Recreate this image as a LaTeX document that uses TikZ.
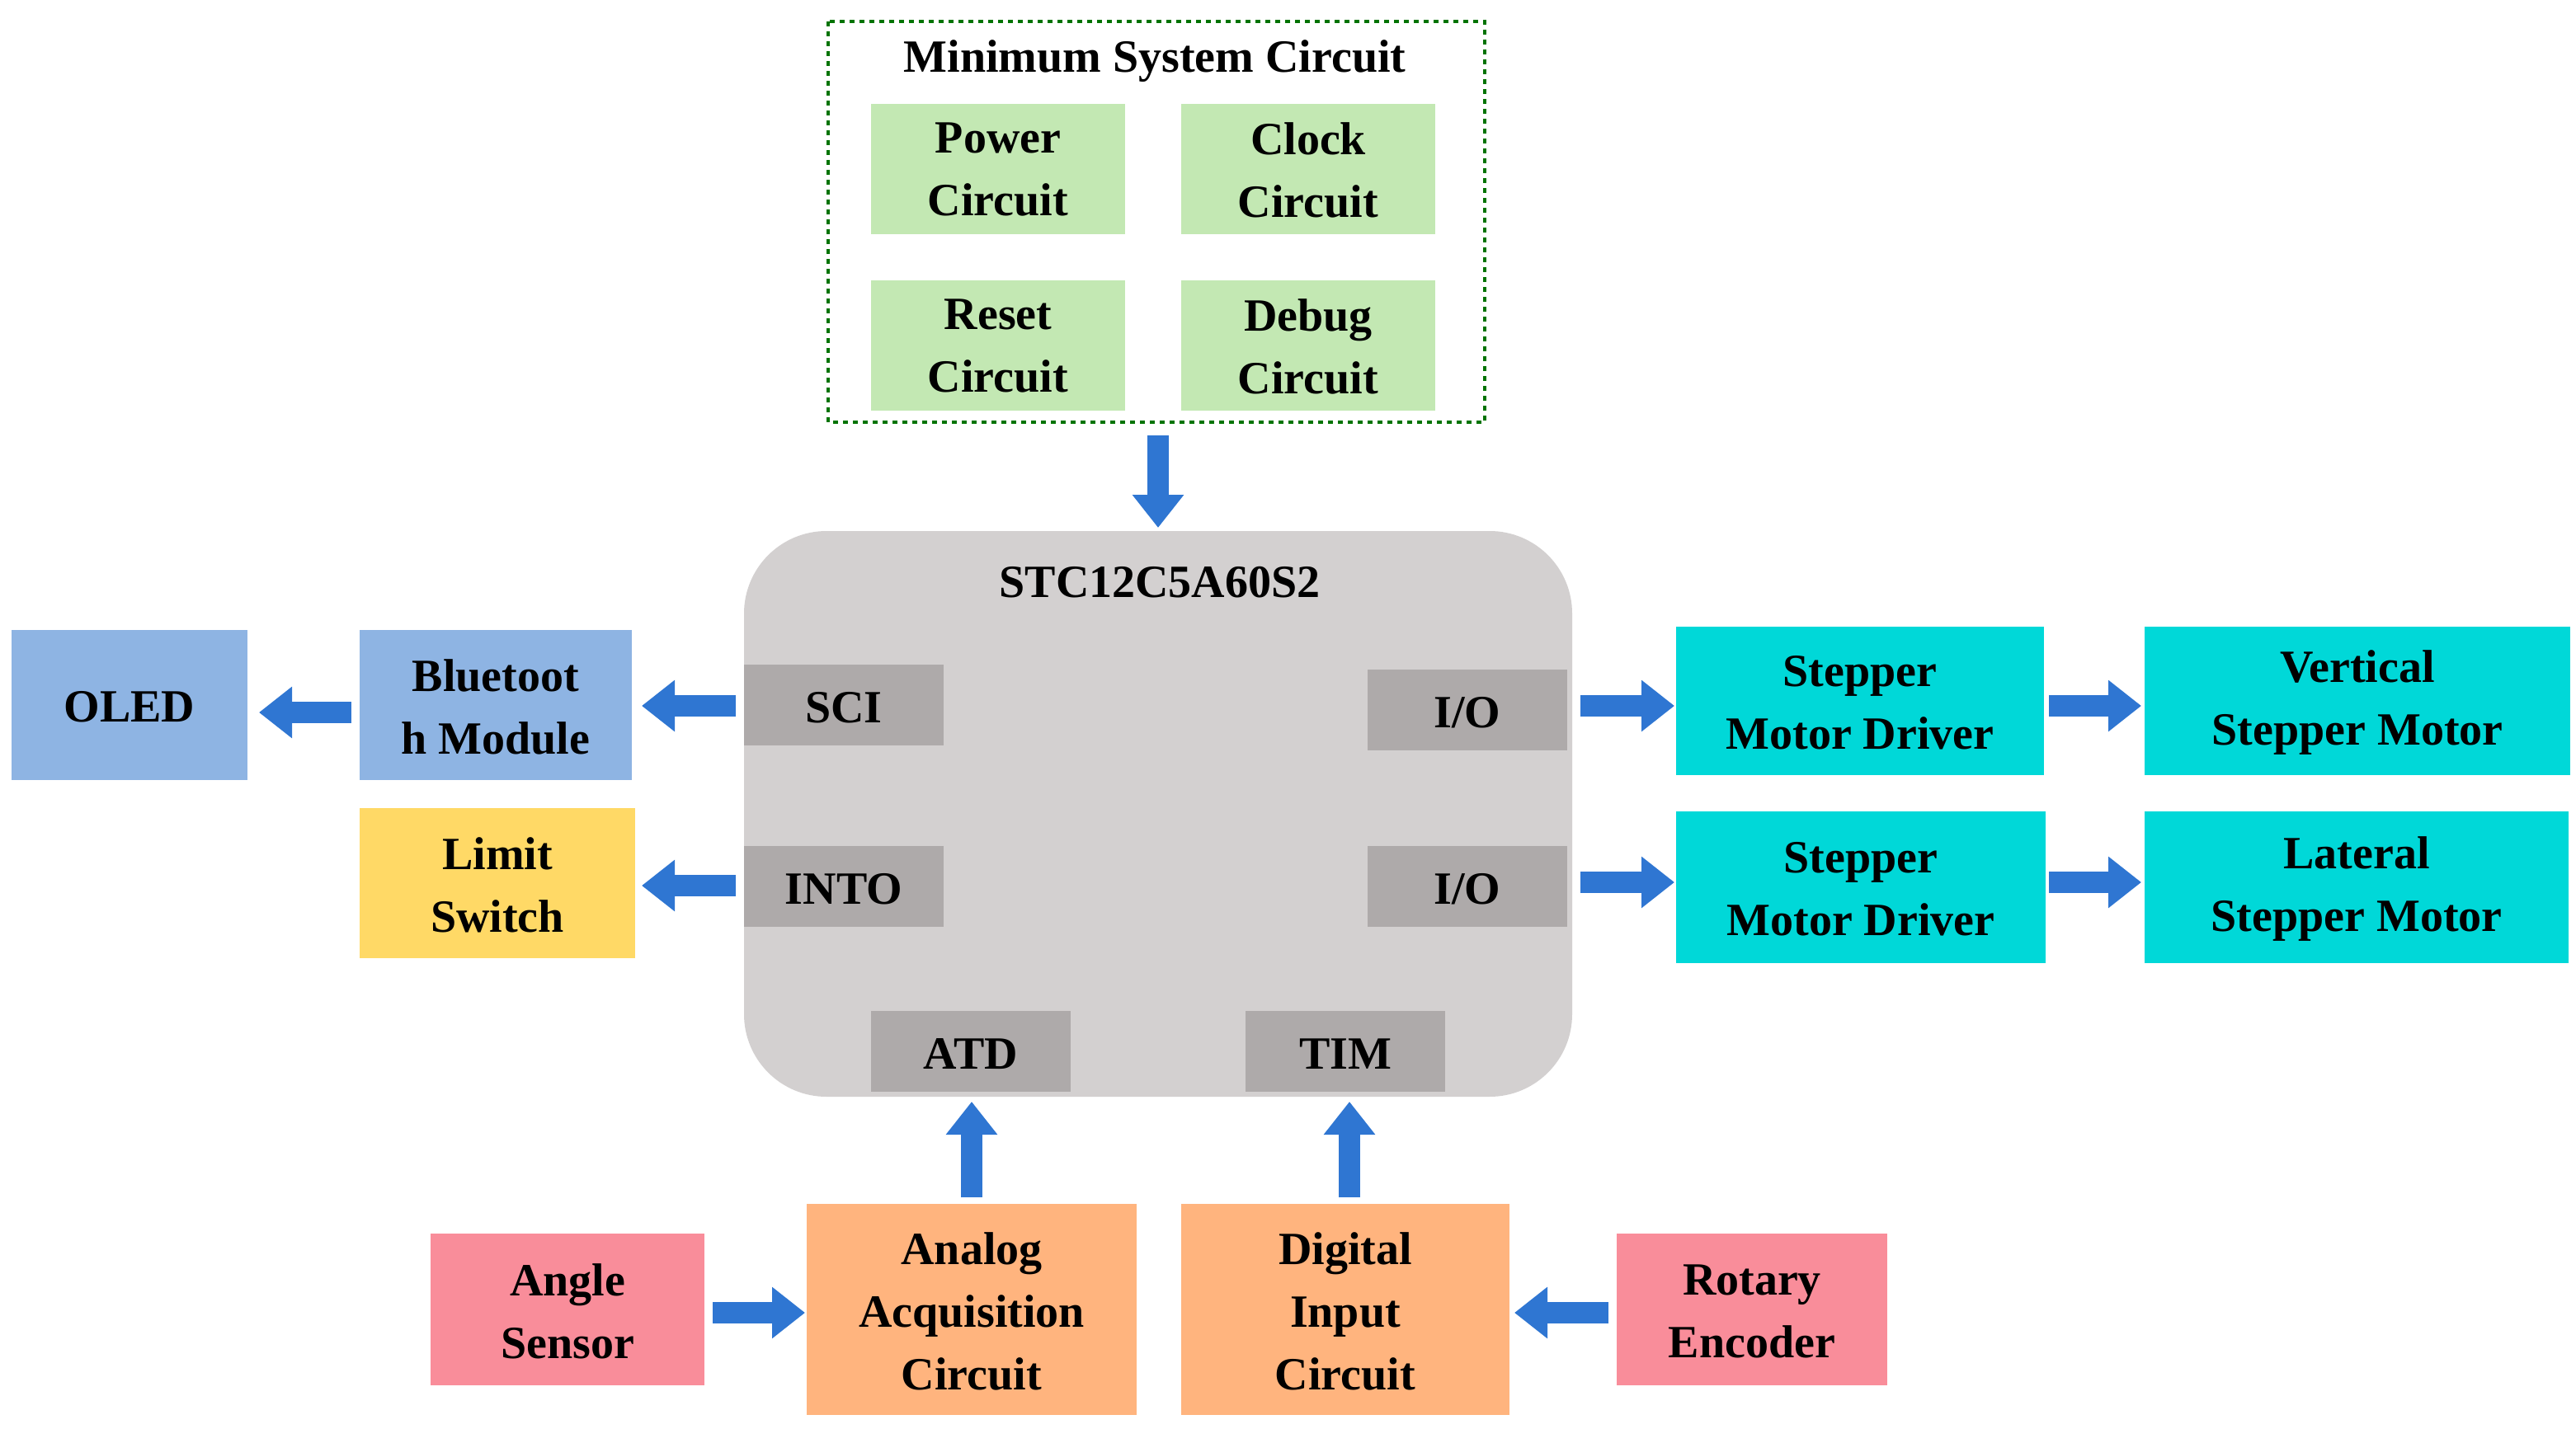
\documentclass[tikz,border=0pt]{standalone}
\usepackage{fontspec}
\setmainfont{Liberation Serif}
\usetikzlibrary{arrows.meta}
\definecolor{grn}{HTML}{C3E8B3}
\definecolor{mcu}{HTML}{D3D0D0}
\definecolor{port}{HTML}{AEAAAA}
\definecolor{blu}{HTML}{8EB4E3}
\definecolor{yel}{HTML}{FFD966}
\definecolor{cya}{HTML}{00D8D8}
\definecolor{pnk}{HTML}{F98D9A}
\definecolor{org}{HTML}{FFB47E}
\definecolor{arr}{HTML}{2F76D2}
\begin{document}
\begin{tikzpicture}[x=1pt,y=-1pt,
  txt/.style={font=\bfseries\fontsize{28}{38}\selectfont,align=center,text=black},
  box/.style={txt,draw=none,inner sep=0pt},
  ar/.style={arr,line width=13pt,-{Triangle[width=30pt,length=20pt]}}]
\useasboundingbox (0,0) rectangle (1561.5,866.5);
% minimum system
\draw[dashed,line width=1.8pt,draw=green!45!black] (502,13) rectangle (900,256);
\node[txt] (ms) at (700,37) {Minimum System Circuit};
\foreach \n/\t/\x/\y in {pw/Power/528/63,ck/Clock/716/63,rs/Reset/528/170,db/Debug/716/170}{
  \fill[grn] (\x,\y) rectangle ++(154,79);
  \node[txt] (\n) at (\x+77,\y+40) {\t\\Circuit};}
% MCU
\fill[mcu,rounded corners=50pt] (451,322) rectangle (953,665);
\node[txt] (mcu) at (703,353) {STC12C5A60S2};
\foreach \n/\t/\x/\y in {sci/SCI/451/403,into/INTO/451/513,io1/I\slash O/829/406,io2/I\slash O/829/513,atd/ATD/528/613,tim/TIM/755/613}{
  \fill[port] (\x,\y) rectangle ++(121,49);
  \node[txt] (\n) at (\x+60.5,\y+26) {\t};}
% side boxes
\newcommand\bx[7]{\fill[#6] (#2,#3) rectangle (#4,#5); \node[txt] (#1) at ({(#2+#4)/2},{(#3+#5)/2+1}) {#7};}
\bx{oled}{7}{382}{150}{473}{blu}{OLED}
\bx{bt}{218}{382}{383}{473}{blu}{Bluetoot\\h Module}
\bx{ls}{218}{490}{385}{581}{yel}{Limit\\Switch}
\bx{d1}{1016}{380}{1239}{470}{cya}{Stepper\\Motor Driver}
\bx{d2}{1016}{492}{1240}{584}{cya}{Stepper\\Motor Driver}
\bx{vm}{1300}{380}{1558}{470}{cya}{Vertical\\Stepper Motor}
\bx{lm}{1300}{492}{1557}{584}{cya}{Lateral\\Stepper Motor}
\bx{as}{261}{748}{427}{840}{pnk}{Angle\\Sensor}
\bx{ac}{489}{730}{689}{858}{org}{Analog\\Acquisition\\Circuit}
\bx{di}{716}{730}{915}{858}{org}{Digital\\Input\\Circuit}
\bx{re}{980}{748}{1144}{840}{pnk}{Rotary\\Encoder}
% arrows
\coordinate (a1s) at (702,264); \coordinate (a1e) at (702,320);
\draw[ar] (a1s) -- (a1e);
\draw[ar] (sci.west -| 446,0) ++(0,0) coordinate (t) (446,428) -- (389,428);
\draw[ar] (213,432) -- (157,432);
\draw[ar] (446,537) -- (389,537);
\draw[ar] (958,428) -- (1015,428);
\draw[ar] (958,535) -- (1015,535);
\draw[ar] (1242,428) -- (1298,428);
\draw[ar] (1242,535) -- (1298,535);
\draw[ar] (589,726) -- (589,668);
\draw[ar] (818,726) -- (818,668);
\draw[ar] (432,796) -- (488,796);
\draw[ar] (975,796) -- (918,796);
\end{tikzpicture}
\end{document}
